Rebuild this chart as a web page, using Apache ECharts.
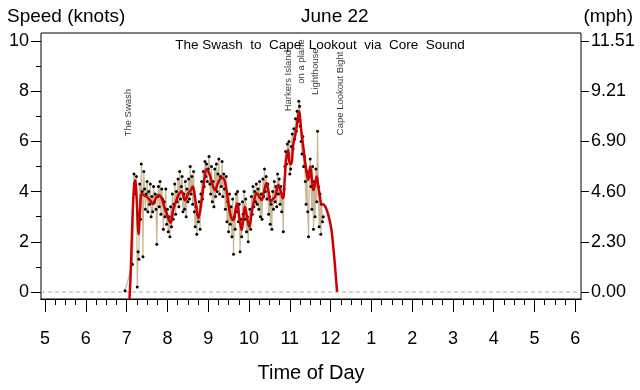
<!DOCTYPE html>
<html><head><meta charset="utf-8">
<script src="https://cdn.jsdelivr.net/npm/echarts@6/dist/echarts.min.js"></script>
<style>html,body{margin:0;padding:0;background:#fff}#c{width:640px;height:390px}</style>
</head><body><div id="c"></div>
<script>
// Raw GPS speed samples: [time of day (decimal hours), speed (knots)]
const rawSpeed = [
[6.96,0.05],[7.14,1.1],[7.18,4.7],[7.20,4.3],[7.22,3.9],[7.24,4.6],[7.26,0.2],[7.28,1.6],[7.30,1.3],[7.32,4.3],
[7.34,2.9],[7.36,5.1],[7.38,4.0],[7.40,1.4],[7.42,4.8],[7.44,4.1],[7.46,3.3],[7.48,3.9],[7.50,4.4],[7.52,3.2],
[7.54,4.0],[7.56,3.5],[7.58,4.3],[7.60,3.0],[7.62,3.8],[7.64,3.2],[7.66,4.2],[7.68,3.6],[7.70,3.9],[7.72,3.3],
[7.74,1.9],[7.76,3.8],[7.78,4.2],[7.80,3.4],[7.82,4.4],[7.84,3.1],[7.86,4.1],[7.88,3.7],[7.90,2.5],[7.92,3.6],
[7.94,3.0],[7.96,4.1],[7.98,2.7],[8.00,3.3],[8.02,2.4],[8.04,3.0],[8.06,2.2],[8.08,3.4],[8.10,2.6],[8.12,3.9],
[8.14,2.9],[8.16,3.5],[8.18,4.3],[8.20,3.1],[8.22,4.0],[8.24,3.6],[8.26,4.5],[8.28,3.4],[8.30,4.8],[8.32,3.7],
[8.34,4.2],[8.36,4.6],[8.38,3.2],[8.40,3.9],[8.42,3.3],[8.44,4.4],[8.46,3.0],[8.48,4.1],[8.50,3.6],[8.52,4.5],
[8.54,3.7],[8.56,5.0],[8.58,3.9],[8.60,4.6],[8.62,3.5],[8.64,4.8],[8.66,3.2],[8.68,2.6],[8.70,3.4],[8.72,2.3],
[8.74,3.1],[8.76,2.8],[8.78,3.6],[8.80,2.5],[8.82,3.9],[8.84,4.4],[8.86,3.7],[8.88,4.8],[8.90,4.2],[8.92,5.2],
[8.94,4.6],[8.96,5.1],[8.98,4.4],[9.00,4.9],[9.02,5.4],[9.04,4.3],[9.06,3.9],[9.08,5.0],[9.10,3.6],[9.12,4.4],
[9.14,3.4],[9.16,4.9],[9.18,3.8],[9.20,5.1],[9.22,4.0],[9.24,4.7],[9.26,5.3],[9.28,3.9],[9.30,4.6],[9.32,4.2],
[9.34,5.2],[9.36,3.8],[9.38,4.7],[9.40,4.1],[9.42,3.3],[9.44,4.6],[9.46,2.8],[9.48,3.6],[9.50,2.4],[9.52,3.9],
[9.54,2.7],[9.56,3.4],[9.58,2.2],[9.60,3.7],[9.62,1.5],[9.64,3.0],[9.66,2.5],[9.68,3.9],[9.70,3.2],[9.72,4.0],
[9.74,2.8],[9.76,3.5],[9.78,1.6],[9.80,2.9],[9.82,2.2],[9.84,3.6],[9.86,3.1],[9.88,4.0],[9.90,2.9],[9.92,3.7],
[9.94,2.4],[9.96,3.0],[9.98,2.0],[10.00,2.7],[10.02,3.3],[10.04,2.5],[10.06,3.8],[10.08,3.1],[10.10,4.2],[10.12,3.4],
[10.14,4.0],[10.16,3.6],[10.18,4.3],[10.20,3.5],[10.22,4.1],[10.24,3.3],[10.26,4.4],[10.28,3.0],[10.30,3.9],[10.32,2.9],
[10.34,4.5],[10.36,3.8],[10.38,4.9],[10.40,4.0],[10.42,4.6],[10.44,3.7],[10.46,4.3],[10.48,3.1],[10.50,3.8],[10.52,2.7],
[10.54,3.5],[10.56,2.5],[10.58,4.0],[10.60,3.3],[10.62,4.4],[10.64,3.6],[10.66,4.2],[10.68,3.4],[10.70,4.7],[10.72,3.9],
[10.74,4.5],[10.76,3.5],[10.78,4.2],[10.80,3.2],[10.82,3.8],[10.84,2.4],[10.86,4.1],[10.88,5.0],[10.90,5.6],[10.92,5.1],
[10.94,5.9],[10.96,5.4],[10.98,6.0],[11.00,4.7],[11.02,4.9],[11.04,5.8],[11.06,6.3],[11.08,5.7],[11.10,6.5],[11.12,6.1],
[11.14,6.9],[11.16,6.4],[11.18,7.2],[11.20,6.8],[11.22,7.6],[11.24,7.4],[11.26,6.6],[11.28,6.0],[11.30,5.5],[11.32,6.2],
[11.34,5.0],[11.36,5.4],[11.38,4.4],[11.40,3.5],[11.42,4.8],[11.44,3.2],[11.46,2.2],[11.48,4.6],[11.50,5.3],[11.52,4.2],
[11.54,3.3],[11.56,5.0],[11.58,2.5],[11.60,4.4],[11.62,3.0],[11.64,4.9],[11.66,3.6],[11.68,6.4],[11.70,4.2],[11.72,2.6],
[11.74,3.9],[11.76,2.3],[11.78,3.5],[11.80,2.8],[11.82,3.0]
];
// Smoothed speed curve: [time, knots]
const smoothSpeed = [
[7.07,-0.3],[7.10,0.8],[7.14,2.8],[7.18,4.2],[7.21,4.45],[7.24,3.9],[7.27,2.8],[7.29,2.3],[7.33,3.3],[7.37,3.9],
[7.43,3.85],[7.49,3.8],[7.57,3.66],[7.65,3.5],[7.72,3.75],[7.78,3.86],[7.86,3.73],[7.92,3.4],[7.98,3.13],[8.04,2.85],
[8.08,2.76],[8.14,3.27],[8.21,3.6],[8.27,3.86],[8.35,4.0],[8.43,3.66],[8.51,3.93],[8.57,4.05],[8.62,4.2],[8.69,3.6],
[8.76,2.94],[8.84,3.66],[8.90,4.4],[8.96,4.9],[9.04,4.66],[9.10,4.3],[9.17,4.06],[9.23,4.3],[9.29,4.5],[9.35,4.55],
[9.41,4.4],[9.47,3.8],[9.52,3.27],[9.57,2.95],[9.62,2.87],[9.67,3.3],[9.71,3.53],[9.76,3.0],[9.82,2.47],[9.86,2.9],
[9.90,3.4],[9.96,2.9],[10.01,2.6],[10.06,3.1],[10.11,3.53],[10.19,3.93],[10.25,3.8],[10.31,3.66],[10.37,4.0],[10.43,4.33],
[10.48,4.0],[10.53,3.6],[10.58,3.7],[10.64,3.8],[10.72,4.26],[10.78,4.0],[10.83,3.73],[10.88,4.6],[10.91,5.26],[10.96,5.66],
[11.00,5.1],[11.03,5.1],[11.09,5.92],[11.14,6.3],[11.17,6.6],[11.20,6.9],[11.23,7.2],[11.26,6.8],[11.29,6.3],[11.33,5.8],
[11.37,5.26],[11.41,4.8],[11.45,4.46],[11.50,5.0],[11.54,4.5],[11.58,4.06],[11.62,4.3],[11.66,4.6],[11.70,4.2],[11.74,3.8],
[11.78,3.5],[11.82,3.5],[11.87,3.4],[11.92,3.2],[11.97,2.9],[12.02,2.5],[12.06,1.9],[12.10,1.2],[12.13,0.6],[12.16,0]
];
// Place annotations: [time, speed level where text starts, label]
const placeNotes = [
[7.04,6.2,'The Swash'],[10.96,7.2,'Harkers Island'],[11.29,8.3,'on a plane'],
[11.62,7.85,'Lighthouse'],[12.23,6.25,'Cape Lookout Bight']
];
const hourTicks = [5,6,7,8,9,10,11,12,13,14,15,16,17,18];
const quarterTicks = [];
for (let h = 5; h < 18; h++) { quarterTicks.push(h + 0.25, h + 0.5, h + 0.75); }
const knotTicks = [0,2,4,6,8,10];
const knotMinorTicks = [1,3,5,7,9];
const KNOT_TO_MPH = 1.15078;

const FONT = 'Liberation Sans';
const chart = echarts.init(document.getElementById('c'), null, {renderer:'canvas'});
const yMin = -0.28, yMax = 10.32, xMin = 4.9, xMax = 18.14;
const baseY = {type:'value', min:yMin, max:yMax, splitLine:{show:false}, axisLine:{show:false}};
const baseX = {type:'value', min:xMin, max:xMax, position:'bottom', splitLine:{show:false},
  axisLine:{show:true, onZero:false, lineStyle:{color:'#000', width:1}}};
chart.setOption({
  animation:false,
  backgroundColor:'#fff',
  title:[
    {text:'Speed (knots)', left:2, top:2, textStyle:{fontFamily:FONT, fontSize:19, fontWeight:'normal', color:'#000'}},
    {text:'June 22', left:296, top:2, textStyle:{fontFamily:FONT, fontSize:19, fontWeight:'normal', color:'#000'}},
    {text:'(mph)', right:2, top:2, textStyle:{fontFamily:FONT, fontSize:19, fontWeight:'normal', color:'#000'}},
    {text:'The Swash  to  Cape  Lookout  via  Core  Sound', left:'center', top:33, textStyle:{fontFamily:FONT, fontSize:13.5, fontWeight:'normal', color:'#000'}}
  ],
  grid:{left:41, right:59, top:33, height:266, show:true, borderColor:'#000', borderWidth:1, backgroundColor:'transparent'},
  xAxis:[
    Object.assign({}, baseX, {
      name:'Time of Day', nameLocation:'middle', nameGap:64,
      nameTextStyle:{fontFamily:FONT, fontSize:20, color:'#000'},
      axisTick:{show:true, length:13, customValues:hourTicks, lineStyle:{color:'#000', width:1}},
      axisLabel:{show:true, customValues:hourTicks, margin:31, fontFamily:FONT, fontSize:18, color:'#000',
        formatter:v => String(v > 12 ? v - 12 : v)}
    }),
    Object.assign({}, baseX, {
      axisTick:{show:true, length:6, customValues:quarterTicks, lineStyle:{color:'#000', width:1}},
      axisLabel:{show:false}
    })
  ],
  yAxis:[
    Object.assign({}, baseY, {
      position:'left',
      axisTick:{show:true, length:10, customValues:knotTicks, lineStyle:{color:'#000', width:1}},
      axisLabel:{show:true, customValues:knotTicks, margin:12, fontFamily:FONT, fontSize:18, color:'#000'}
    }),
    Object.assign({}, baseY, {
      position:'left',
      axisTick:{show:true, length:5, customValues:knotMinorTicks, lineStyle:{color:'#000', width:1}},
      axisLabel:{show:false}
    }),
    Object.assign({}, baseY, {
      position:'right',
      axisTick:{show:true, length:8, customValues:knotTicks, lineStyle:{color:'#000', width:1}},
      axisLabel:{show:true, customValues:knotTicks, margin:10, fontFamily:FONT, fontSize:18, color:'#000',
        formatter:v => (v * KNOT_TO_MPH).toFixed(2)}
    })
  ],
  series:[
    {type:'line', data:[[xMin,0],[xMax,0]], xAxisIndex:0, yAxisIndex:0, symbol:'none', silent:true,
      lineStyle:{color:'#b0b0b0', type:[4,3], width:1}, z:1},
    {type:'line', data:rawSpeed, xAxisIndex:0, yAxisIndex:0, symbol:'circle', symbolSize:3, showSymbol:true,
      itemStyle:{color:'#000'}, lineStyle:{color:'#c8b898', width:1.2}, z:2},
    {type:'line', data:smoothSpeed, xAxisIndex:0, yAxisIndex:0, symbol:'none', smooth:0.4,
      lineStyle:{color:'#cc0000', width:2.5}, z:3},
    {type:'scatter', data:placeNotes.map(p => [p[0], p[1], p[2]]), xAxisIndex:0, yAxisIndex:0,
      symbolSize:0, z:4,
      label:{show:true, position:'inside', rotate:90, align:'left', verticalAlign:'middle',
        fontFamily:FONT, fontSize:9.5, color:'#000', formatter:p => p.value[2]}}
  ]
});
</script></body></html>
